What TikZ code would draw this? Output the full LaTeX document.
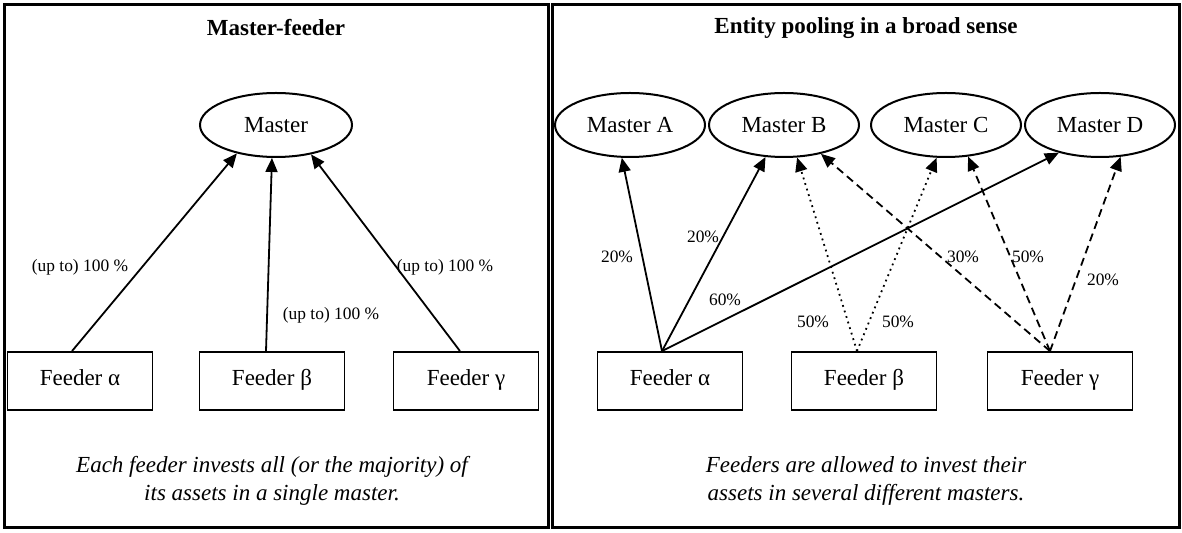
\documentclass[tikz,border=0pt]{standalone}
\usepackage{fontspec}
\setmainfont{Liberation Serif}
\usetikzlibrary{arrows.meta, shapes.geometric, positioning, calc}

\begin{document}
\begin{tikzpicture}[
  x=0.5pt, y=-0.5pt,
  % --- styles ------------------------------------------------------------
  panel/.style={draw, line width=1.5pt},
  master/.style={
    ellipse, draw, line width=1pt, inner sep=0pt,
    minimum width=75pt, minimum height=32pt,
    font=\fontsize{11.5}{14}\selectfont
  },
  feeder/.style={
    rectangle, draw, line width=0.9pt,
    minimum width=72.5pt, minimum height=29pt,
    text height=0.75em, text depth=0.25em,
    font=\fontsize{11.5}{14}\selectfont
  },
  heading/.style={font=\fontsize{11.5}{14}\selectfont\bfseries},
  note/.style={font=\fontsize{11.5}{14}\selectfont\itshape, align=center},
  pct/.style={font=\fontsize{8.7}{10}\selectfont, inner sep=1pt},
  link/.style={-{Triangle[length=7pt, width=6pt]}, line width=0.9pt},
  dotlink/.style={link, dotted},
  dashlink/.style={link, dash pattern=on 4pt off 2.5pt}
]
\useasboundingbox (0,0) rectangle (1182,533);

% --------------------- frames -------------------------------------------
\draw[panel] (4,5) rectangle (548,527);
\draw[panel] (552,5) rectangle (1179,527);

% --------------------- left panel ---------------------------------------
\node[heading] (tl) at (276,28) {Master-feeder};
\node[master, minimum width=76pt] (m) at (276,125) {Master};

\node[feeder] (fa) at (80,381) {Feeder α};
\node[feeder] (fb) at (272,381) {Feeder β};
\node[feeder] (fc) at (466,381) {Feeder γ};

\draw[link] ([xshift=-4pt]fa.north) -- (m.-144);
\draw[link] ([xshift=-3pt]fb.north) -- (m.-97);
\draw[link] ([xshift=-3pt]fc.north) -- (m.-40);

\node[pct] at (80,267) {(up to) 100 \%};
\node[pct] at (331,315) {(up to) 100 \%};
\node[pct] at (445,267) {(up to) 100 \%};

\node[note] (nl) at (272,481)
     {Each feeder invests all (or the majority) of\\its assets in a single master.};

% --------------------- right panel --------------------------------------
\node[heading] (tr) at (866,28) {Entity pooling in a broad sense};
\node[master] (ma) at (630,125) {Master A};
\node[master] (mb) at (784,125) {Master B};
\node[master] (mc) at (946,125) {Master C};
\node[master] (md) at (1100,125) {Master D};

\node[feeder] (ga) at (670,381) {Feeder α};
\node[feeder] (gb) at (864,381) {Feeder β};
\node[feeder] (gc) at (1060,381) {Feeder γ};

\coordinate (sa) at ([xshift=-4pt]ga.north);
\coordinate (sb) at ([xshift=-3.5pt]gb.north);
\coordinate (sc) at ([xshift=-5pt]gc.north);

% feeder alpha (solid)
\draw[link] (sa) -- (ma.-104);
\draw[link] (sa) -- (mb.-120);
\draw[link] (sa) -- (md.-146);
% feeder beta (dotted)
\draw[dotlink] (sb) -- (mb.-68);
\draw[dotlink] (sb) -- (mc.-106);
% feeder gamma (dashed)
\draw[dashlink] (sc) -- (mb.-38);
\draw[dashlink] (sc) -- (mc.-55);
\draw[dashlink] (sc) -- (md.-57);

\node[pct] at (617,257) {20\%};
\node[pct] at (703,237) {20\%};
\node[pct] at (725,300) {60\%};
\node[pct] at (813,322) {50\%};
\node[pct] at (898,322) {50\%};
\node[pct] at (963,257) {30\%};
\node[pct] at (1028,257) {50\%};
\node[pct] at (1103,280) {20\%};

\node[note] (nr) at (866,481)
     {Feeders are allowed to invest their\\assets in several different masters.};

\end{tikzpicture}
\end{document}
